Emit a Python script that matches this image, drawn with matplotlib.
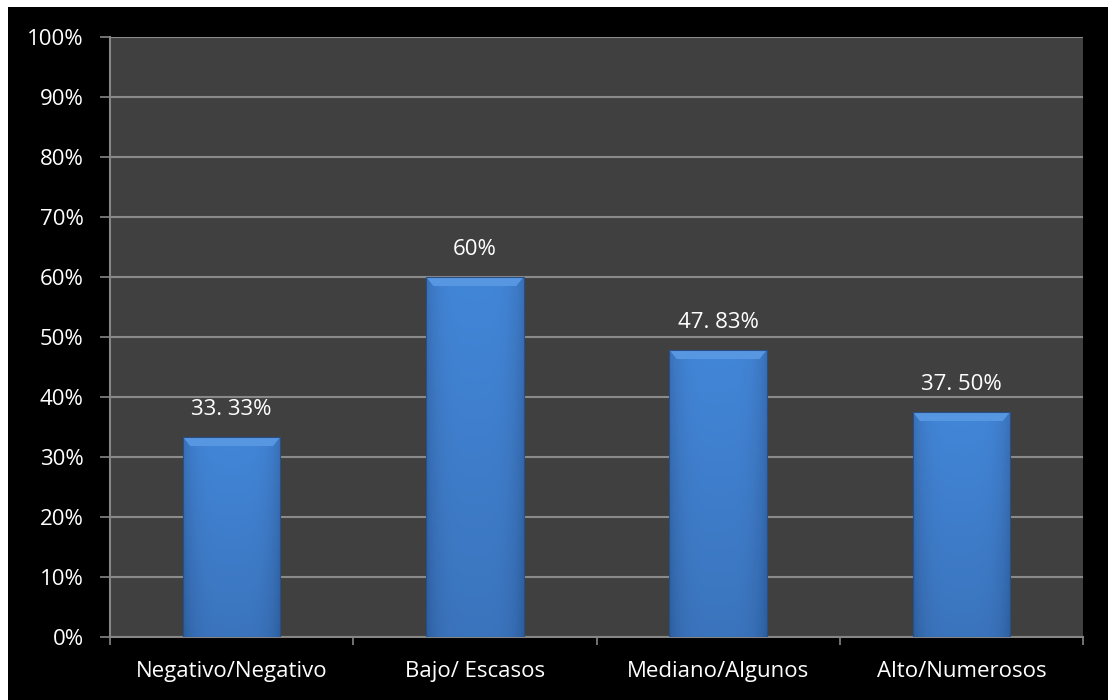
import matplotlib.pyplot as plt
import matplotlib.patches as mpatches
from matplotlib.colors import LinearSegmentedColormap
import numpy as np

categorias = ["Negativo/Negativo", "Bajo/ Escasos", "Mediano/Algunos", "Alto/Numerosos"]
valores = [33.33, 60.0, 47.83, 37.50]
etiquetas = ["33. 33%", "60%", "47. 83%", "37. 50%"]

plt.rcParams['font.family'] = ['Open Sans', 'DejaVu Sans']

fig = plt.figure(figsize=(11.08, 7), dpi=100)
fig.patch.set_facecolor('white')
# marco negro del grafico
fig.patches.append(mpatches.Rectangle((8 / 1108, 0), 1, 693 / 700, transform=fig.transFigure,
                                      facecolor='black', edgecolor='none', zorder=-1))

ax = fig.add_axes([110 / 1108, 63 / 700, 973 / 1108, 600 / 700])
ax.set_facecolor('#404040')

x = np.arange(len(categorias))
ancho = 0.4
barras = ax.bar(x, valores, width=ancho, color='#3b78c4', edgecolor='#274f85',
                linewidth=0.8, zorder=3)

# degradado dentro de cada barra: mas claro al centro y arriba
gx = np.linspace(0, 1, 200)
gx = 1 - (2 * np.abs(gx - 0.5)) ** 4
gy = np.linspace(0, 1, 200)[:, None]
cmap = LinearSegmentedColormap.from_list('azul', ['#2c5e9e', '#3a72ba', '#4286d8'])
for b, v in zip(barras, valores):
    x0 = b.get_x()
    grad = 0.55 * gx[None, :] + 0.45 * gy
    im = ax.imshow(grad, cmap=cmap, aspect='auto', extent=[x0, x0 + ancho, 0, v],
                   origin='lower', zorder=3.5, interpolation='bicubic', vmin=0, vmax=1)
    im.set_clip_path(b)
    # bisel superior
    bx = 0.03
    by = 1.5
    bisel = mpatches.Polygon([[x0, v], [x0 + ancho, v], [x0 + ancho - bx, v - by], [x0 + bx, v - by]],
                             closed=True, facecolor='#5797e2', edgecolor='none', zorder=4)
    ax.add_patch(bisel)
    b.set_zorder(4.5)
    b.set_facecolor('none')

for xi, v, t in zip(x, valores, etiquetas):
    ax.annotate(t, (xi, v), xytext=(0, 12), textcoords='offset points', ha='center',
                va='bottom', color='white', fontsize=16)

ax.set_xlim(-0.5, len(categorias) - 0.5)
ax.set_ylim(0, 100)
ax.set_yticks(np.arange(0, 101, 10))
ax.set_yticklabels([f"{v}%" for v in range(0, 101, 10)])
ax.set_xticks(x)
ax.set_xticklabels(categorias)
ax.set_xticks(np.arange(-0.5, len(categorias), 1), minor=True)

ax.yaxis.grid(True, color='#8a8a8a', linewidth=1.5, zorder=1)
ax.set_axisbelow(True)

ax.tick_params(axis='y', colors='#868686', labelcolor='white', labelsize=16, length=7, width=1.2, pad=12)
ax.tick_params(axis='x', which='major', length=0, labelcolor='white', labelsize=16, pad=17)
ax.tick_params(axis='x', which='minor', colors='#868686', length=6, width=1.2)

for lado in ['top', 'right']:
    ax.spines[lado].set_visible(False)
for lado in ['left', 'bottom']:
    ax.spines[lado].set_color('#868686')
    ax.spines[lado].set_linewidth(1.5)

fig.savefig('out.png', dpi=100, facecolor=fig.get_facecolor())
